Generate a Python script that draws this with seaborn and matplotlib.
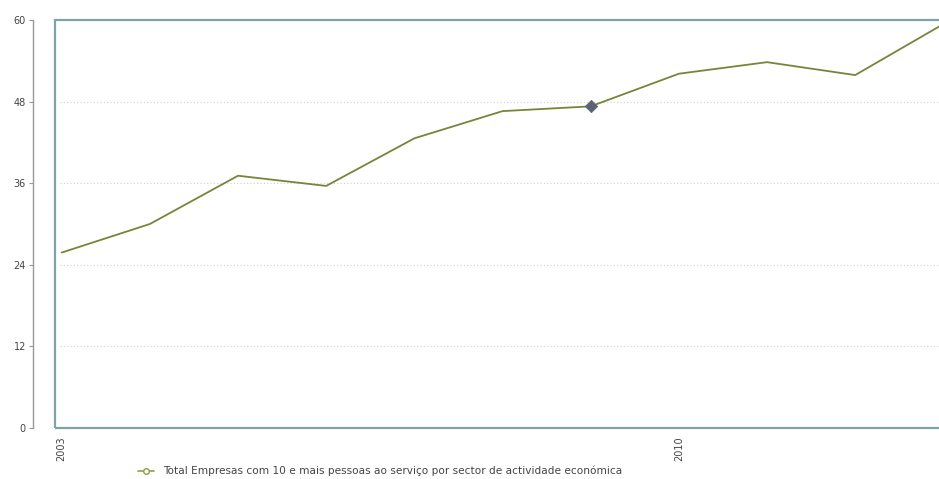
import matplotlib
matplotlib.use("Agg")
import matplotlib.pyplot as plt
from matplotlib.lines import Line2D
from matplotlib.patches import Rectangle
import seaborn as sns
import pandas as pd

years = [2003, 2004, 2005, 2006, 2007, 2008, 2009, 2010, 2011, 2012, 2013]
values = [25.8, 30.0, 37.1, 35.6, 42.6, 46.6, 47.3, 52.1, 53.8, 51.9, 59.4]
series_name = "Total Empresas com 10 e mais pessoas ao serviço por sector de actividade económica"
highlight_year = 2009
y_ticks = [0, 12, 24, 36, 48, 60]
x_tick_labels = [2003, 2010]

df = pd.DataFrame({"ano": years, "valor": values})

sns.set_style("white")
plt.rcParams["font.family"] = ["DejaVu Sans"]

W, H = 939, 479
fig = plt.figure(figsize=(W / 100, H / 100), dpi=100)
left, right, top, bottom = 55, 946, 20, 428
ax = fig.add_axes([left / W, 1 - bottom / H, (right - left) / W, (bottom - top) / H])

for s in ["top", "right", "bottom"]:
    ax.spines[s].set_visible(False)
ax.spines["left"].set_position(("outward", 16))
ax.spines["left"].set_color("#999999")
ax.spines["left"].set_linewidth(1.0)

line_color = "#76853a"
sns.lineplot(data=df, x="ano", y="valor", ax=ax, color=line_color, linewidth=1.3, legend=False)

hv = values[years.index(highlight_year)]
sns.scatterplot(x=[highlight_year], y=[hv], ax=ax, marker="D", s=40, color="#5d6275",
                edgecolor="#5d6275", zorder=5, legend=False)

ax.set_xlim(2002.924, 2013.03)
ax.set_ylim(0, 60)
ax.set_yticks(y_ticks)
ax.set_yticklabels([str(v) for v in y_ticks], fontsize=7, color="#444444")
ax.set_xticks(x_tick_labels)
ax.set_xticklabels([str(v) for v in x_tick_labels], rotation=90, fontsize=7, color="#444444",
                   va="top")
ax.tick_params(axis="x", length=0, pad=6)
ax.tick_params(axis="y", length=3, width=0.8, color="#999999", pad=2, left=True)
ax.set_xlabel("")
ax.set_ylabel("")

for yv in y_ticks[1:-1]:
    ax.axhline(yv, xmin=0.006, color="#d0d0d0", linestyle=(0, (1, 2)), linewidth=0.8, zorder=0)

frame = Rectangle((0, 0), 1, 1, transform=ax.transAxes, fill=False,
                  edgecolor="#7fa3ad", linewidth=1.6, clip_on=False, zorder=6)
ax.add_patch(frame)

handle = Line2D([0], [0], color="#8fa043", linewidth=1.2, marker="o", markersize=4,
                markerfacecolor="white", markeredgecolor="#8fa043")
fig.legend([handle], [series_name], loc="center left",
           bbox_to_anchor=(128 / W, 1 - 471 / H), frameon=False, fontsize=7.6,
           handlelength=1.6, handletextpad=0.8, labelcolor="#444444")

fig.savefig("out.png", dpi=100)
